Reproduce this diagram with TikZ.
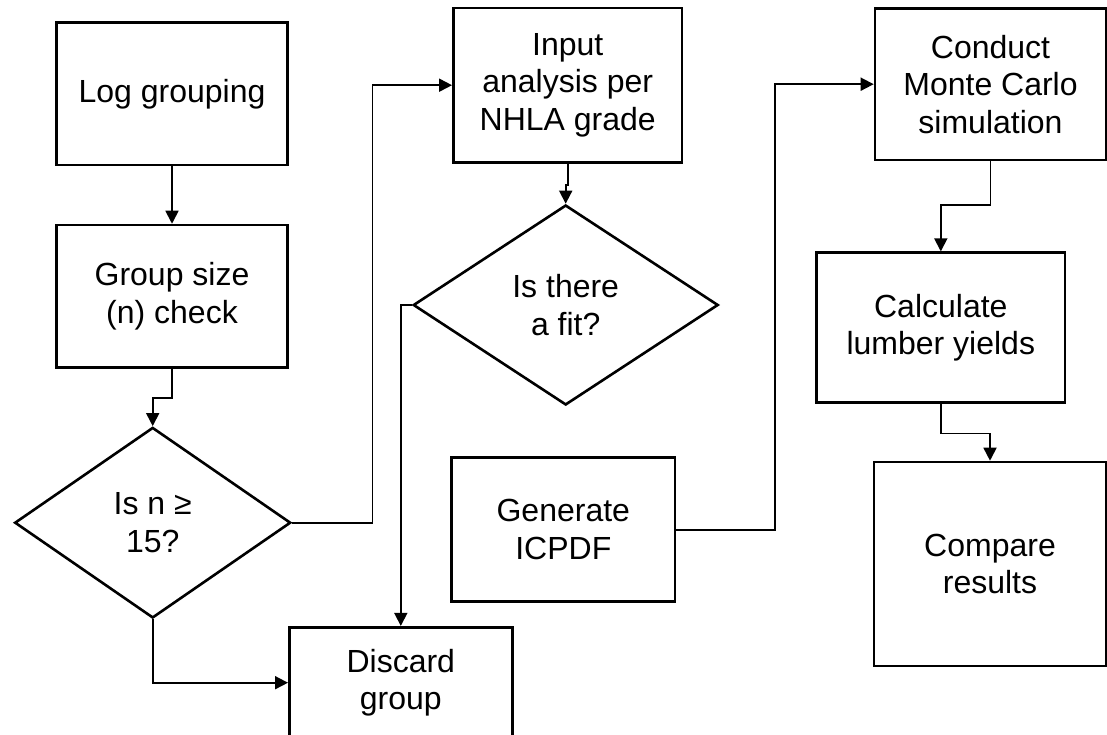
\documentclass[tikz,border=0pt]{standalone}
\usepackage{fontspec}
\setmainfont{Liberation Sans}
\usetikzlibrary{arrows.meta,shapes.geometric}
\tikzset{
  box/.style={draw=black, line width=2.6pt, fill=white, inner sep=0pt, align=center,
    font=\fontsize{32}{37.5}\selectfont},
  decision/.style={box, diamond, aspect=1.5},
  conn/.style={draw=black, line width=1.8pt, -{Triangle[length=13pt,width=13pt]}},
}
\begin{document}
\begin{tikzpicture}[x=1pt,y=-1pt]
\useasboundingbox (0,0) rectangle (1107,735);
\clip (0,0) rectangle (1107,735);
% nodes
\node[box, minimum width=231pt, minimum height=142.3pt] (log) at (172,93.9) {Log grouping};
\node[box, minimum width=231pt, minimum height=142.7pt] (grp) at (172,296.4) {Group size\\(n) check};
\node[decision, minimum width=276pt, minimum height=190.6pt] (isn) at (152.7,522.7) {Is n ≥\\15?};
\node[box, minimum width=223pt, minimum height=111pt] (discard) at (400.8,682.7) {Discard\\group};
\node[box, minimum width=228.7pt, minimum height=154.3pt] (input) at (567.7,85.2) {Input\\analysis per\\NHLA grade};
\node[decision, minimum width=305pt, minimum height=200pt] (fit) at (565.7,305) {Is there\\a fit?};
\node[box, minimum width=223.3pt, minimum height=144pt] (gen) at (563.3,529.7) {Generate\\ICPDF};
\node[box, minimum width=231pt, minimum height=151.7pt] (conduct) at (990.5,84.2) {Conduct\\Monte Carlo\\simulation};
\node[box, minimum width=248.3pt, minimum height=150pt] (calc) at (940.8,327.7) {Calculate\\lumber yields};
\node[box, minimum width=232pt, minimum height=204pt] (compare) at (990,564) {Compare\\results};
% bend points
\coordinate (j1) at (372.5,85.2);
\coordinate (j2) at (775,84.2);
% connectors
\draw[conn] (log.south) -- (grp.north);
\draw[conn] (grp.south) -- ++(0,29) -| (isn.north);
\draw[conn] (isn.east) -| (j1) -- (input.west);
\draw[conn] (isn.south) |- (discard.west);
\draw[conn] (input.south) -- ++(0,21) -| (fit.north);
\draw[conn] (fit.west) -| (discard.north);
\draw[conn] (gen.east) -| (j2) -- (conduct.west);
\draw[conn] (conduct.south) -- ++(0,44) -| (calc.north);
\draw[conn] (calc.south) -- ++(0,29.5) -| (compare.north);
\end{tikzpicture}
\end{document}
